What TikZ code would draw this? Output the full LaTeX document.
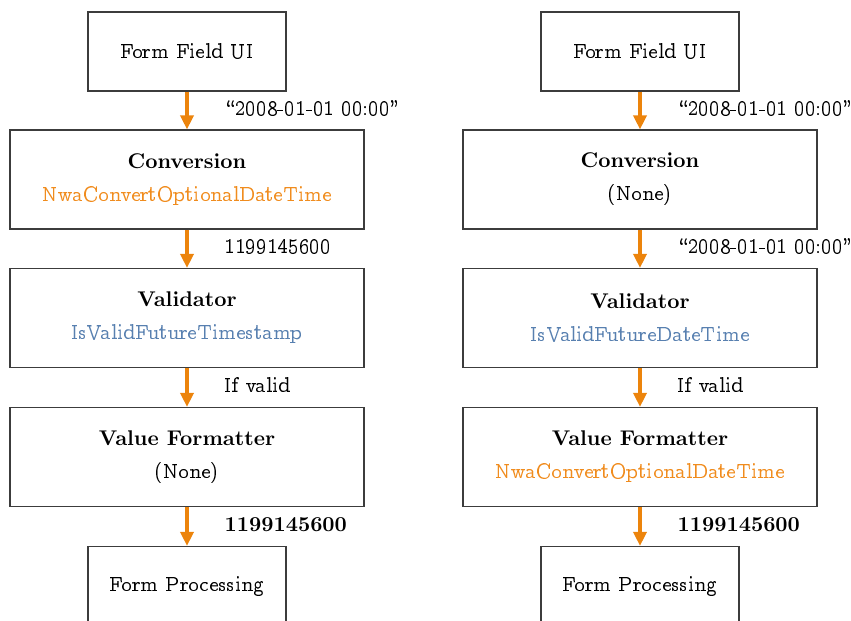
\documentclass[tikz,border=0pt]{standalone}
\usepackage[OT1]{fontenc}
\usepackage{ccfonts}
\definecolor{FlowOrange}{RGB}{236,132,12}
\definecolor{FuncOrange}{RGB}{240,140,30}
\definecolor{FuncBlue}{RGB}{88,128,176}
\definecolor{BoxGray}{RGB}{60,60,60}
\usetikzlibrary{arrows.meta}

\begin{document}
\begin{tikzpicture}[x=0.47pt,y=0.47pt,
        endbox/.style={draw=BoxGray,line width=0.55pt,
                       minimum width=93pt,minimum height=37.1pt,inner sep=0pt},
        stagebox/.style={draw=BoxGray,line width=0.55pt,align=center,
                         minimum width=166.4pt,minimum height=46.5pt,inner sep=0pt},
        flow/.style={-{Triangle[length=6.6pt,width=6.1pt]},line width=1.9pt,FlowOrange},
        val/.style={midway,anchor=west,xshift=13.4pt,yshift=1.1pt,text=black}]
        \useasboundingbox (0,0) rectangle (851,-621);
        % left: conversion to timestamp
        \node[endbox] (lui) at (187,-51.5) {Form Field UI};
        \node[stagebox] (lconv) at (187,-179.5)
             {\textbf{Conversion}\\[2.5pt]{\color{FuncOrange}NwaConvertOptionalDateTime}};
        \node[stagebox] (lval) at (187,-318)
             {\textbf{Validator}\\[2.5pt]{\color{FuncBlue}IsValidFutureTimestamp}};
        \node[stagebox] (lfmt) at (187,-457)
             {\textbf{Value Formatter}\\[2.5pt](None)};
        \node[endbox] (lproc) at (187,-586) {Form Processing};
        \draw[flow] (lui) -- (lconv) node[val] {``2008-01-01 00:00''};
        \draw[flow] (lconv) -- (lval) node[val] {1199145600};
        \draw[flow] (lval) -- (lfmt) node[val] {If valid};
        \draw[flow] (lfmt) -- (lproc) node[val] {\textbf{1199145600}};
        % right: conversion in the formatter
        \node[endbox] (rui) at (640,-51.5) {Form Field UI};
        \node[stagebox] (rconv) at (640,-179.5)
             {\textbf{Conversion}\\[2.5pt](None)};
        \node[stagebox] (rval) at (640,-318)
             {\textbf{Validator}\\[2.5pt]{\color{FuncBlue}IsValidFutureDateTime}};
        \node[stagebox] (rfmt) at (640,-457)
             {\textbf{Value Formatter}\\[2.5pt]{\color{FuncOrange}NwaConvertOptionalDateTime}};
        \node[endbox] (rproc) at (640,-586) {Form Processing};
        \draw[flow] (rui) -- (rconv) node[val] {``2008-01-01 00:00''};
        \draw[flow] (rconv) -- (rval) node[val] {``2008-01-01 00:00''};
        \draw[flow] (rval) -- (rfmt) node[val] {If valid};
        \draw[flow] (rfmt) -- (rproc) node[val] {\textbf{1199145600}};
\end{tikzpicture}
\end{document}
